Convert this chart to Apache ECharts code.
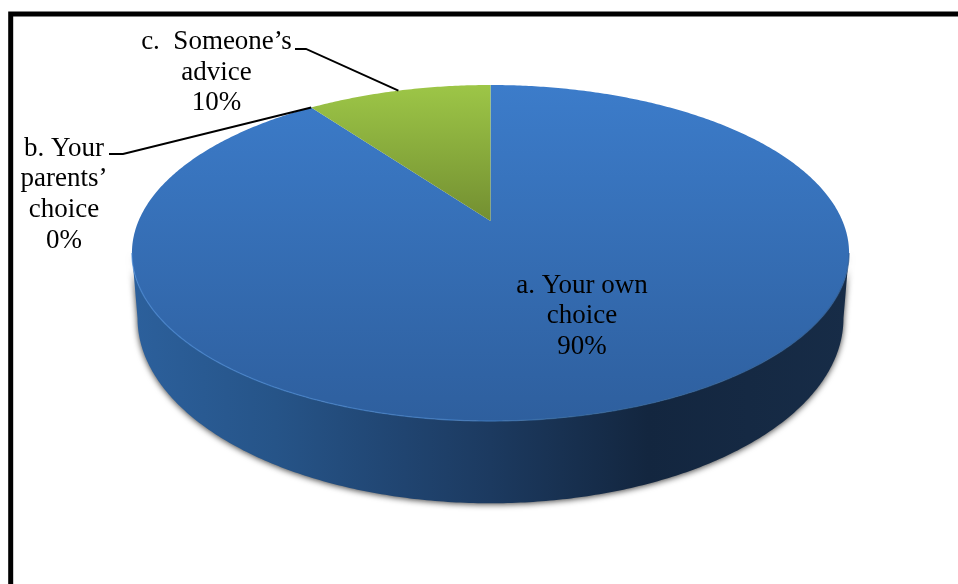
<!DOCTYPE html>
<html>
<head>
<meta charset="utf-8">
<style>
  html, body { margin: 0; padding: 0; background: #fff; }
  #chart { width: 958px; height: 584px; }
</style>
<script src="https://cdn.jsdelivr.net/npm/echarts@6/dist/echarts.min.js"></script>
</head>
<body>
<div id="chart"></div>
<script>
// Survey answers, as percentages
const categories = ['a. Your own\nchoice', 'b. Your\nparents’\nchoice', 'c.  Someone’s\nadvice'];
const shares = [90, 0, 10];

const TAU = Math.PI * 2;
const FONT = '"Liberation Serif", "Times New Roman", serif';

// Projective tilt of a circular disc: the far rim is foreshortened
const tilt = 0.1905;
const topDisc = { cx: 490.5, cy: 221, kx: 352, ky: 161.9 };
const baseDisc = { cx: 490.5, cy: 283, kx: 346.5, ky: 178.3 };
// Rim angle at which a disc reaches its widest point on screen
const silhouetteAngle = Math.acos(-tilt);

function project(disc, angle) {
  const u = Math.sin(angle), v = Math.cos(angle), d = 1 + tilt * v;
  return [disc.cx + disc.kx * u / d, disc.cy - disc.ky * v / d];
}

function rim(disc, from, to) {
  const pts = [];
  const n = Math.max(2, Math.ceil(Math.abs(to - from) / 0.01));
  for (let i = 0; i <= n; i++) pts.push(project(disc, from + (to - from) * i / n));
  return pts;
}

const gradient = (x, y, x2, y2, stops) => new echarts.graphic.LinearGradient(
  x, y, x2, y2, stops.map(([offset, color]) => ({ offset, color })));

// Label blocks and their leader elbows, per category
const labelPlacement = [
  { x: 582, y: 285.5, inside: true },
  { x: 64, y: 148.5, elbow: [[109, 154], [123, 154]], tip: 0.5 },
  { x: 216.5, y: 42, elbow: [[295, 49], [306, 49]], tip: 0.5 }
];

const total = shares.reduce((a, b) => a + b, 0);
const startAngles = shares.map((_, i) =>
  shares.slice(0, i).reduce((a, b) => a + b, 0) / total * TAU);

const sideFill = gradient(0, 0, 1, 0, [
  [0, '#2c609c'], [0.2, '#265488'], [0.38, '#204470'], [0.5, '#1c3a60'],
  [0.72, '#13263f'], [1, '#172c47']
]);
const blueTop = gradient(0, 0, 0, 1, [[0, '#3c7cca'], [1, '#2e5f9e']]);
const greenTop = gradient(0, 0, 0, 1, [[0, '#9dc647'], [1, '#738f31']]);
const rimLight = gradient(0, 0, 1, 0, [
  [0, '#4a8bd8'], [0.45, '#4684cc'], [0.62, '#33689f'], [1, '#2b5a92']
]);

function renderSlice(params, api) {
  const i = params.dataIndex;
  const share = api.value(1);
  const from = startAngles[i];
  const to = from + share / total * TAU;
  const place = labelPlacement[i];
  const children = [];

  if (share > 0) {
    // Wall below the front of the rim
    const frontFrom = Math.max(from, silhouetteAngle);
    const frontTo = Math.min(to, TAU - silhouetteAngle);
    if (frontTo > frontFrom) {
      children.push({
        type: 'polygon', z2: 1,
        shape: { points: rim(topDisc, frontFrom, frontTo).concat(rim(baseDisc, frontTo, frontFrom)) },
        style: { fill: sideFill, shadowColor: 'rgba(0,0,0,0.75)', shadowBlur: 6, shadowOffsetY: 1 }
      });
    }
    // Flat top of the slice
    children.push({
      type: 'polygon', z2: 2,
      shape: { points: [[topDisc.cx, topDisc.cy]].concat(rim(topDisc, from, to)) },
      style: { fill: i === 0 ? blueTop : greenTop }
    });
    // Soft highlight along the front edge
    if (frontTo > frontFrom) {
      children.push({
        type: 'polyline', z2: 3,
        shape: { points: rim(topDisc, frontFrom, frontTo) },
        style: { fill: null, stroke: rimLight, lineWidth: 1.3, opacity: 0.65 }
      });
    }
  }

  // Leader from the label elbow to the slice rim
  if (place.elbow) {
    const tipAngle = from + (to - from) * place.tip;
    children.push({
      type: 'polyline', z2: 5,
      shape: { points: place.elbow.concat([project(topDisc, tipAngle)]) },
      style: { fill: null, stroke: '#000', lineWidth: 1.9 }
    });
  }

  const lines = (categories[i] + '\n' + share + '%').split('\n');
  lines.forEach((line, n) => {
    children.push({
      type: 'text', z2: 6,
      x: place.x, y: place.y + n * 30.7,
      style: {
        text: line, fill: '#000', font: '27px ' + FONT,
        align: 'center', verticalAlign: 'middle'
      }
    });
  });

  return { type: 'group', children };
}

const chart = echarts.init(document.getElementById('chart'), null, { renderer: 'canvas' });
chart.setOption({
  animation: false,
  backgroundColor: '#fff',
  // Heavy black rule along the top and left of the panel
  graphic: [{
    type: 'polyline',
    shape: { points: [[10.7, 584], [10.7, 14], [958, 14]] },
    style: { fill: null, stroke: '#000', lineWidth: 5 }
  }],
  series: [{
    type: 'custom',
    coordinateSystem: 'none',
    data: shares.map((v, i) => [i, v]),
    encode: { value: 1 },
    renderItem: renderSlice
  }]
});
</script>
</body>
</html>
